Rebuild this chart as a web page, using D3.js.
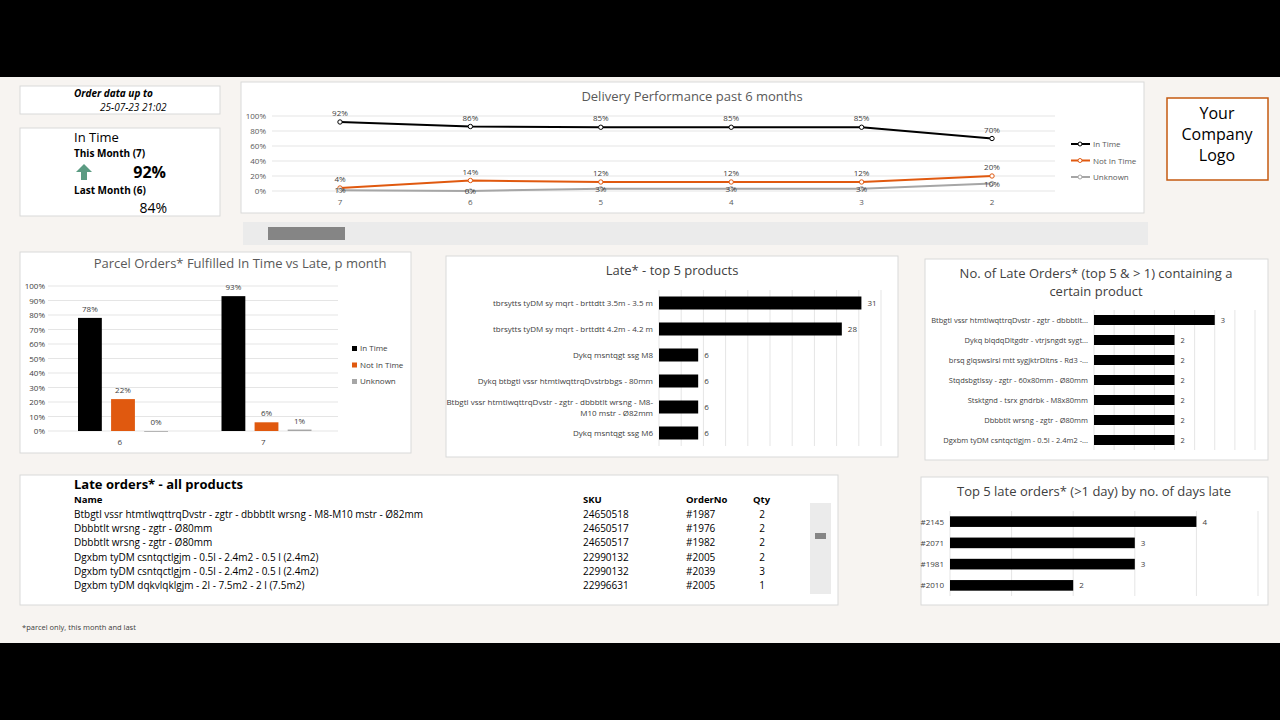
<!DOCTYPE html>
<html><head><meta charset="utf-8">
<script src="https://cdn.jsdelivr.net/npm/d3@7"></script>
<style>
body{margin:0;background:#000;}
svg{display:block;font-family:"Liberation Sans Narrow","Open Sans",sans-serif;}
</style></head><body>
<script>
// data
var months = ["7","6","5","4","3","2"];
var inTime = [0.92,0.86,0.85,0.85,0.85,0.70];
var notInTime = [0.04,0.14,0.12,0.12,0.12,0.20];
var unknown = [0.01,0.00,0.03,0.03,0.03,0.10];
var seriesNames = ["In Time","Not In Time","Unknown"];
var seriesColors = ["#000000","#e0590f","#a6a6a6"];

var parcelMonths = ["6","7"];
var parcelInTime = [0.78,0.93];
var parcelNotInTime = [0.22,0.06];
var parcelUnknown = [0.00,0.01];

var topProducts = ["tbrsytts tyDM sy mqrt  - brttdtt 3.5m - 3.5 m","tbrsytts tyDM sy mqrt - brttdtt 4.2m - 4.2 m","Dykq msntqgt ssg M8","Dykq btbgtl vssr htmtlwqttrqDvstrbbgs - 80mm","Btbgtl vssr htmtlwqttrqDvstr - zgtr - dbbbtlt wrsng - M8-|M10 mstr -  Ø82mm","Dykq msntqgt ssg M6"];
var topProductValues = [31,28,6,6,6,6];

var lateContain = ["Btbgtl vssr htmtlwqttrqDvstr - zgtr - dbbbtlt...","Dykq blqdqDltgdtr - vtrjsngdt sygt...","brsq glqswslrsl mtt sygjktrDltns - Rd3 -...","Stqdsbgtlssy - zgtr - 60x80mm - Ø80mm","Stsktgnd - tsrx gndrbk - M8x80mm","Dbbbtlt wrsng - zgtr - Ø80mm","Dgxbm tyDM csntqctlgjm - 0.5l - 2.4m2 -..."];
var lateContainValues = [3,2,2,2,2,2,2];

var lateOrderNos = ["#2145","#2071","#1981","#2010"];
var lateDays = [4,3,3,2];

var tblNames = ["Btbgtl vssr htmtlwqttrqDvstr - zgtr - dbbbtlt wrsng - M8-M10 mstr -  Ø82mm","Dbbbtlt wrsng - zgtr - Ø80mm","Dbbbtlt wrsng - zgtr - Ø80mm","Dgxbm tyDM csntqctlgjm - 0.5l - 2.4m2 - 0.5 l (2.4m2)","Dgxbm tyDM csntqctlgjm - 0.5l - 2.4m2 - 0.5 l (2.4m2)","Dgxbm tyDM dqkvlqklgjm - 2l - 7.5m2 - 2 l (7.5m2)"];
var tblSku = ["24650518","24650517","24650517","22990132","22990132","22996631"];
var tblOrder = ["#1987","#1976","#1982","#2005","#2039","#2005"];
var tblQty = ["2","2","2","2","3","1"];

var pct = d3.format(".0%");
var svg = d3.select("body").append("svg").attr("width",1280).attr("height",720);
svg.append("rect").attr("width",1280).attr("height",720).attr("fill","#000");
svg.append("rect").attr("y",77).attr("width",1280).attr("height",566).attr("fill","#f7f4f1");

function panel(x,y,w,h,stroke){
  svg.append("rect").attr("x",x).attr("y",y).attr("width",w).attr("height",h)
    .attr("fill","#fff").attr("stroke",stroke||"#d9d9d9");
}
function text(x,y,s,size,opt){
  opt=opt||{};
  return svg.append("text").attr("x",x).attr("y",y).text(s).attr("font-size",size)
    .attr("fill",opt.fill||"#000").attr("text-anchor",opt.anchor||"start")
    .attr("font-weight",opt.weight||"normal").attr("font-style",opt.style||"normal");
}

// info boxes
panel(20,86,200,28);
text(74,97,"Order data up to",10,{weight:"bold",style:"italic"});
text(100,111,"25-07-23 21:02",10,{style:"italic"});
panel(20,128,200,88);
text(74,142,"In Time",13);
text(74,157,"This Month (7)",10,{weight:"bold"});
svg.append("path").attr("d","M84,164 l8,8 h-5 v8 h-6 v-8 h-5 z").attr("fill","#5b9b82");
text(166,178,"92%",16,{anchor:"end",weight:"bold"});
text(74,194,"Last Month (6)",10,{weight:"bold"});
text(167,213,"84%",14,{anchor:"end"});

// logo
svg.append("rect").attr("x",1167).attr("y",98).attr("width",101).attr("height",82)
  .attr("fill","#fff").attr("stroke","#c55a11").attr("stroke-width",1.5);
["Your","Company","Logo"].forEach(function(s,i){ text(1217,119+i*21,s,16,{anchor:"middle"}); });

// line chart
panel(241,82,903,131);
text(692,101,"Delivery Performance past 6 months",13,{anchor:"middle",fill:"#595959"});
var lx = d3.scalePoint().domain(months).range([340,992]);
var ly = d3.scaleLinear().domain([0,1]).range([191,116]);
var lg = svg.append("g");
ly.ticks(5).forEach(function(t){
  lg.append("line").attr("x1",272).attr("x2",1055).attr("y1",ly(t)).attr("y2",ly(t)).attr("stroke","#e5e5e5");
  text(266,ly(t)+3,pct(t),8,{anchor:"end",fill:"#595959"});
});
months.forEach(function(m){ text(lx(m),205,m,8,{anchor:"middle",fill:"#595959"}); });
[inTime,notInTime,unknown].forEach(function(ser,si){
  svg.append("path").datum(ser).attr("fill","none").attr("stroke",seriesColors[si]).attr("stroke-width",2)
    .attr("d",d3.line().x(function(d,i){return lx(months[i]);}).y(function(d){return ly(d);}));
  ser.forEach(function(v,i){
    svg.append("circle").attr("cx",lx(months[i])).attr("cy",ly(v)).attr("r",2.2)
      .attr("fill","#fff").attr("stroke",seriesColors[si]);
    text(lx(months[i]),ly(v)-(si==2?-3:6),pct(v),8,{anchor:"middle",fill:"#404040"});
  });
});
seriesNames.forEach(function(n,i){
  var y=144+i*16.5;
  svg.append("line").attr("x1",1071).attr("x2",1090).attr("y1",y).attr("y2",y).attr("stroke",seriesColors[i]).attr("stroke-width",2);
  svg.append("circle").attr("cx",1080).attr("cy",y).attr("r",2).attr("fill","#fff").attr("stroke",seriesColors[i]);
  text(1093,y+3,n,8,{fill:"#595959"});
});
// scrollbar
svg.append("rect").attr("x",243).attr("y",222).attr("width",905).attr("height",23).attr("fill","#ebebeb");
svg.append("rect").attr("x",268).attr("y",227).attr("width",77).attr("height",13).attr("fill","#858585");

// parcel bar chart
panel(20,252,391,201);
text(240,268,"Parcel Orders* Fulfilled In Time vs Late, p month",13,{anchor:"middle",fill:"#595959"});
var px0 = d3.scaleBand().domain(parcelMonths).range([48,335]);
var px1 = d3.scaleBand().domain(seriesNames).range([30,120]).paddingInner(0.28);
var py = d3.scaleLinear().domain([0,1]).range([431,286]);
py.ticks(10).forEach(function(t){
  svg.append("line").attr("x1",48).attr("x2",338).attr("y1",py(t)).attr("y2",py(t)).attr("stroke","#e5e5e5");
  text(45,py(t)+3,pct(t),8,{anchor:"end",fill:"#404040"});
});
parcelMonths.forEach(function(m,mi){
  text(px0(m)+px0.bandwidth()/2,445,m,8,{anchor:"middle",fill:"#404040"});
  [parcelInTime,parcelNotInTime,parcelUnknown].forEach(function(ser,si){
    var x=px0(m)+px1(seriesNames[si]), v=ser[mi];
    svg.append("rect").attr("x",x).attr("y",py(v)).attr("width",px1.bandwidth())
      .attr("height",Math.max(431-py(v),0.8)).attr("fill",seriesColors[si]);
    text(x+px1.bandwidth()/2,py(v)-6,pct(v),8,{anchor:"middle",fill:"#404040"});
  });
});
seriesNames.forEach(function(n,i){
  var y=351+i*16.5;
  svg.append("rect").attr("x",352).attr("y",y-5).attr("width",5).attr("height",5).attr("fill",seriesColors[i]);
  text(360,y,n,8,{fill:"#404040"});
});

// horizontal bar helper
function hbar(cats,vals,x0,x1,dom,y0,y1,step,fs){
  var x=d3.scaleLinear().domain([0,dom]).range([x0,x1]);
  var y=d3.scaleBand().domain(cats).range([y0,y1]).paddingInner(0.5).paddingOuter(0.25);
  d3.range(0,dom+0.001,step).forEach(function(t){
    svg.append("line").attr("x1",x(t)).attr("x2",x(t)).attr("y1",y0).attr("y2",y1).attr("stroke","#e5e5e5");
  });
  cats.forEach(function(c,i){
    svg.append("rect").attr("x",x0).attr("y",y(c)).attr("width",x(vals[i])-x0).attr("height",y.bandwidth()).attr("fill","#000");
    text(x(vals[i])+6,y(c)+y.bandwidth()/2+3,vals[i],fs,{fill:"#404040"});
    var parts=c.split("|");
    parts.forEach(function(p,pi){
      text(x0-6,y(c)+y.bandwidth()/2+3+(pi-(parts.length-1)/2)*11,p,fs,{anchor:"end",fill:"#404040"});
    });
  });
}

panel(446,256,452,201);
text(672,275,"Late* - top 5 products",13,{anchor:"middle",fill:"#404040"});
hbar(topProducts,topProductValues,659,881,34,290,446,3.4,8);

panel(925,259,343,201);
text(1096,278,"No. of Late Orders* (top 5 & > 1) containing a",13,{anchor:"middle",fill:"#404040"});
text(1096,296,"certain product",13,{anchor:"middle",fill:"#404040"});
hbar(lateContain,lateContainValues,1094,1255,4,310,450,0.5,7.5);

panel(921,477,347,128);
text(1094,496,"Top 5 late orders* (>1 day)  by no. of days late",13,{anchor:"middle",fill:"#404040"});
hbar(lateOrderNos,lateDays,950,1258,5,511,596,1,8);

// table
panel(20,475,818,130);
text(74,489,"Late orders* - all products",13,{weight:"bold"});
[["Name",74],["SKU",583],["OrderNo",686],["Qty",753]].forEach(function(h){ text(h[1],503,h[0],9.5,{weight:"bold"}); });
tblNames.forEach(function(n,i){
  var y=518+i*14.2;
  text(74,y,n,10); text(583,y,tblSku[i],10); text(686,y,tblOrder[i],10); text(762,y,tblQty[i],10,{anchor:"middle"});
});
svg.append("rect").attr("x",810).attr("y",503).attr("width",21).attr("height",91).attr("fill","#ebebeb");
svg.append("rect").attr("x",815).attr("y",533).attr("width",11).attr("height",6).attr("fill","#858585");

text(22,630,"*parcel only, this month and last",7.5,{fill:"#404040"});
</script>
</body></html>
